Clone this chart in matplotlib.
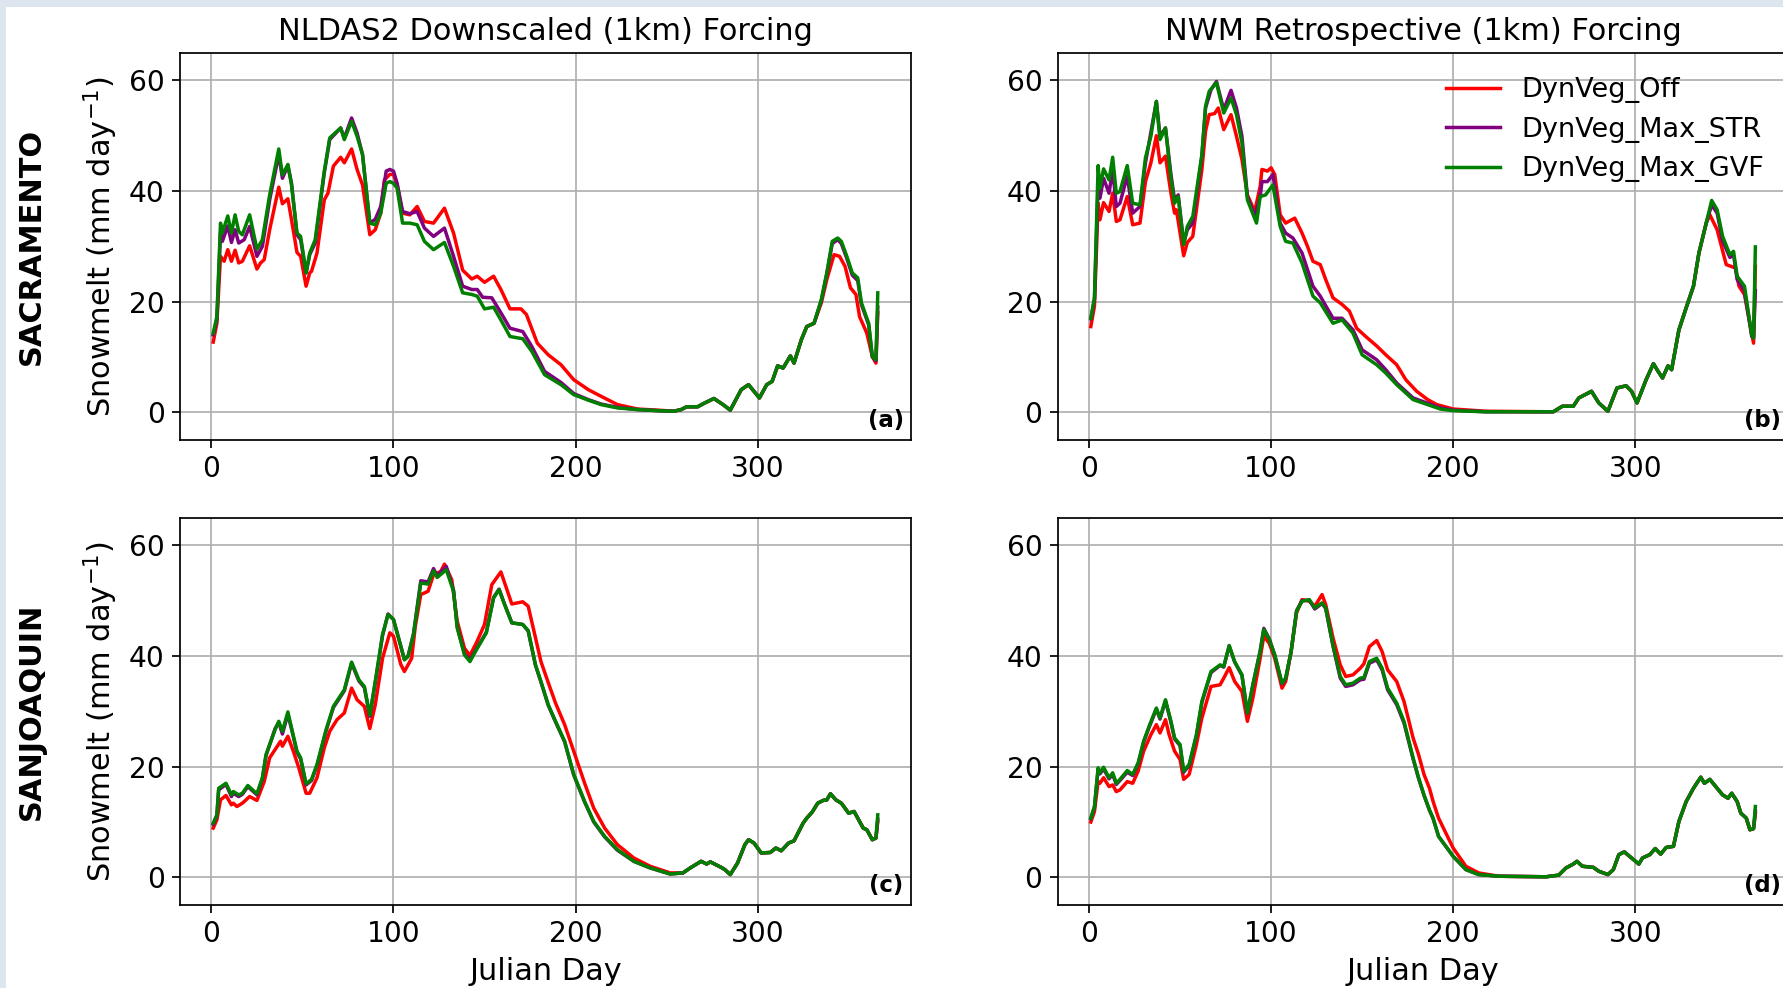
import numpy as np
import matplotlib
matplotlib.use("Agg")
import matplotlib.pyplot as plt
from matplotlib.patches import Rectangle

# ---- data (day, snowmelt mm/day) ----
# (a) SACRAMENTO, NLDAS2 downscaled
A_OFF = [(1, 12.7), (3, 16.1), (5, 28.2), (7, 27.3), (9, 29.4), (11, 27.3), (13, 29.3), (15, 27.0),
         (17, 27.3), (21, 30.1), (25, 25.9), (27, 27.0), (29, 27.6), (32, 33.0), (37, 40.7), (39, 37.7),
         (42, 38.6), (44, 34.8), (47, 28.9), (49, 28.2), (52, 22.8), (54, 25.2), (55, 25.5), (58, 28.8),
         (62, 38.4), (64, 39.6), (67, 44.5), (71, 46.1), (73, 45.1), (77, 47.6), (80, 43.9), (83, 41.1),
         (85, 36.6), (87, 32.1), (90, 33.0), (93, 36.0), (95, 42.0), (98, 43.0), (100, 43.0), (102, 41.1),
         (105, 36.0), (109, 35.7), (113, 37.2), (117, 34.5), (122, 34.2), (128, 36.9), (133, 32.4),
         (138, 25.7), (143, 24.1), (146, 24.6), (150, 23.5), (155, 24.6), (159, 22.2), (164, 18.7),
         (170, 18.7), (173, 17.7), (179, 12.5), (185, 10.4), (192, 8.6), (199, 5.9), (207, 4.1),
         (214, 2.9), (223, 1.4), (234, 0.6), (245, 0.4), (254, 0.2)]
A_STR = [(1, 14.0), (3, 16.7), (5, 32.4), (6, 30.9), (9, 33.7), (11, 30.7), (13, 33.0), (15, 30.6),
         (18, 31.2), (21, 33.6), (25, 28.2), (28, 30.0), (32, 38.4), (37, 46.6), (39, 42.3), (42, 44.6),
         (44, 41.4), (47, 32.1), (49, 31.2), (52, 25.2), (54, 28.5), (57, 30.6), (62, 43.3), (65, 49.3),
         (71, 51.4), (73, 49.6), (77, 53.2), (80, 50.5), (83, 46.6), (87, 34.2), (90, 34.9), (93, 37.2),
         (96, 43.6), (98, 43.9), (100, 43.6), (102, 41.4), (105, 36.3), (109, 35.9), (113, 36.3),
         (117, 33.3), (122, 31.8), (128, 33.3), (133, 28.2), (138, 22.8), (143, 22.2), (146, 22.2),
         (149, 20.8), (154, 20.7), (159, 18.0), (164, 15.2), (171, 14.6), (176, 11.9), (183, 7.4),
         (192, 5.4), (199, 3.4), (207, 2.3), (214, 1.5), (223, 0.9), (234, 0.5), (245, 0.3), (254, 0.2)]
A_GVF = [(1, 14.3), (3, 17.3), (5, 34.2), (6, 32.4), (9, 35.5), (11, 32.4), (13, 35.7), (15, 32.7),
         (17, 32.1), (21, 35.7), (25, 29.5), (28, 31.2), (32, 39.3), (37, 47.6), (39, 42.9), (42, 44.8),
         (44, 41.1), (47, 32.4), (49, 31.8), (52, 25.2), (54, 28.8), (57, 31.2), (62, 43.6), (65, 49.6),
         (71, 51.4), (73, 49.3), (77, 52.6), (80, 49.9), (83, 46.6), (87, 34.2), (90, 33.9), (93, 36.0),
         (96, 41.4), (98, 41.7), (100, 41.4), (102, 40.5), (105, 34.2), (109, 34.2), (113, 33.9),
         (117, 30.9), (122, 29.4), (128, 30.7), (133, 26.4), (138, 21.6), (143, 21.3), (146, 21.0),
         (150, 18.7), (155, 19.0), (159, 16.7), (164, 13.7), (171, 13.3), (176, 11.0), (183, 6.8),
         (192, 5.0), (199, 3.2), (207, 2.2), (214, 1.4), (223, 0.8), (234, 0.5), (245, 0.3), (254, 0.2)]
A_TAIL = [(258, 0.5), (261, 1.0), (267, 1.0), (271, 1.7), (276, 2.5), (281, 1.4), (285, 0.4), (291, 4.1),
          (295, 5.0), (301, 2.6), (305, 5.0), (308, 5.6), (311, 8.4), (314, 8.0), (318, 10.2), (320, 8.9),
          (324, 13.1), (327, 15.5), (331, 16.1)]
A_OFF_END = [(335, 19.8), (338, 24.0), (342, 28.5), (345, 28.2), (348, 26.4), (351, 22.5), (354, 21.3),
             (356, 17.3), (360, 14.3), (363, 10.1), (365, 8.9), (366, 18.0)]
A_STR_END = [(335, 20.2), (338, 25.0), (341, 30.5), (344, 31.2), (346, 30.5), (349, 27.8), (352, 24.8),
             (355, 23.8), (357, 19.5), (361, 15.8), (363, 10.0), (365, 9.3), (366, 19.0)]
A_GVF_END = [(335, 20.4), (338, 25.2), (341, 30.9), (344, 31.5), (346, 30.9), (349, 28.2), (352, 25.2),
             (355, 24.3), (357, 19.8), (361, 16.1), (363, 10.1), (365, 9.5), (366, 21.6)]

# (b) SACRAMENTO, NWM retrospective
B_OFF = [(1, 15.5), (3, 19.2), (5, 37.8), (6, 34.8), (8, 37.9), (11, 36.3), (13, 39.6), (15, 34.5),
         (17, 34.8), (21, 39.0), (24, 33.9), (28, 34.2), (31, 41.7), (34, 45.1), (37, 50.0), (39, 45.1),
         (42, 46.3), (45, 39.6), (47, 36.0), (48, 36.6), (52, 28.3), (54, 30.7), (57, 31.8), (62, 43.9),
         (64, 50.8), (66, 53.8), (69, 54.0), (71, 55.0), (74, 51.1), (78, 53.8), (81, 49.9), (84, 45.7),
         (87, 39.3), (91, 36.3), (94, 40.8), (95, 43.9), (98, 43.6), (100, 44.2), (102, 43.0), (105, 35.7),
         (108, 34.2), (113, 35.1), (117, 32.4), (120, 30.0), (123, 27.3), (127, 26.7), (130, 24.0),
         (134, 20.7), (139, 19.5), (143, 18.3), (147, 15.2), (152, 13.7), (158, 12.0), (163, 10.4),
         (169, 8.6), (174, 5.9), (180, 3.8), (186, 2.3), (191, 1.4), (200, 0.6), (218, 0.2), (255, 0.1)]
B_STR = [(1, 16.9), (3, 20.4), (5, 41.4), (6, 38.7), (8, 42.3), (11, 39.6), (13, 43.9), (15, 37.2),
         (17, 37.8), (21, 42.7), (24, 36.0), (28, 37.2), (31, 45.1), (37, 56.2), (39, 49.9), (42, 51.4),
         (45, 43.0), (47, 38.4), (49, 39.3), (52, 30.6), (54, 33.0), (57, 34.2), (62, 46.3), (64, 55.0),
         (67, 58.3), (70, 59.8), (74, 54.7), (78, 58.2), (81, 55.0), (84, 49.9), (87, 39.0), (91, 35.4),
         (94, 39.0), (95, 41.7), (98, 41.7), (101, 43.0), (105, 34.2), (108, 32.4), (112, 31.5),
         (117, 28.8), (123, 22.8), (127, 21.0), (134, 17.0), (139, 17.0), (145, 14.9), (150, 11.3),
         (158, 9.5), (163, 7.7), (169, 5.3), (178, 2.6), (193, 0.8), (200, 0.4), (218, 0.1), (255, 0.1)]
B_GVF = [(1, 17.0), (3, 20.7), (5, 44.6), (6, 40.5), (8, 44.0), (11, 42.0), (13, 46.1), (15, 39.6),
         (17, 39.9), (21, 44.6), (24, 37.8), (28, 37.5), (31, 46.0), (34, 49.9), (37, 56.2), (39, 49.3),
         (42, 51.4), (45, 42.3), (47, 37.8), (49, 39.0), (52, 30.3), (54, 33.6), (57, 35.4), (62, 46.6),
         (64, 55.3), (66, 58.0), (70, 59.6), (74, 54.1), (78, 56.8), (81, 53.8), (84, 48.7), (87, 38.4),
         (92, 34.2), (94, 39.0), (97, 39.3), (101, 41.1), (105, 33.6), (108, 30.9), (112, 30.6),
         (117, 27.0), (123, 21.0), (127, 19.8), (134, 16.1), (139, 16.7), (145, 14.3), (150, 10.4),
         (158, 8.6), (163, 7.1), (169, 5.0), (178, 2.3), (193, 0.6), (200, 0.3), (218, 0.1), (255, 0.1)]
B_TAIL = [(260, 1.1), (266, 1.1), (269, 2.6), (276, 3.8), (280, 1.7), (285, 0.2), (290, 4.4), (295, 4.8),
          (298, 3.8), (301, 1.7), (306, 5.9), (310, 8.8), (312, 7.7), (315, 6.2), (318, 8.4), (320, 7.7),
          (324, 14.9), (328, 18.9), (332, 22.8), (335, 28.8), (339, 34.2)]
B_OFF_END = [(341, 35.7), (345, 33.0), (350, 26.7), (355, 26.1), (357, 22.8), (360, 21.3), (365, 12.5),
             (366, 26.4)]
B_STR_END = [(342, 37.5), (345, 36.0), (348, 31.0), (352, 28.0), (354, 28.5), (356, 24.0), (360, 22.0),
             (364, 13.7), (365, 13.5), (366, 22.0)]
B_GVF_END = [(342, 38.3), (345, 36.6), (348, 31.8), (352, 28.5), (354, 29.1), (356, 24.6), (360, 22.8),
             (364, 14.0), (365, 13.4), (366, 29.9)]

# (c) SANJOAQUIN, NLDAS2 downscaled
C_OFF = [(1, 8.9), (3, 10.4), (5, 14.0), (8, 14.8), (11, 13.1), (12, 13.4), (14, 12.8), (17, 13.4),
         (21, 14.6), (25, 13.9), (29, 17.3), (32, 21.6), (38, 24.6), (39, 23.7), (42, 25.5), (45, 22.8),
         (48, 19.8), (52, 15.2), (54, 15.2), (58, 18.0), (62, 23.4), (65, 26.4), (69, 28.5), (73, 29.7),
         (77, 34.2), (80, 32.1), (84, 30.9), (87, 26.9), (90, 31.2), (94, 39.6), (98, 44.2), (100, 43.6),
         (104, 38.5), (106, 37.2), (110, 39.6), (112, 45.4), (115, 51.1), (119, 51.7), (122, 54.7),
         (126, 55.3), (128, 56.6), (132, 53.8), (135, 46.3), (139, 41.4), (142, 40.1), (146, 42.7),
         (150, 45.7), (154, 52.9), (159, 55.2), (162, 52.3), (165, 49.4), (171, 49.8), (174, 49.0),
         (178, 43.3), (181, 39.0), (185, 35.2), (189, 31.5), (194, 27.6), (199, 22.8), (205, 17.0),
         (210, 12.5), (216, 8.9), (223, 5.9), (232, 3.5), (241, 2.0), (252, 0.8)]
C_STR = [(1, 9.6), (3, 11.1), (4, 15.8), (8, 16.8), (11, 14.6), (12, 15.2), (15, 14.6), (17, 15.0),
         (20, 16.4), (25, 14.9), (28, 17.8), (30, 22.0), (35, 26.9), (37, 28.0), (39, 25.9), (42, 29.5),
         (44, 26.8), (47, 22.6), (49, 21.4), (52, 16.7), (55, 17.5), (58, 20.2), (63, 26.5), (67, 30.7),
         (73, 33.7), (77, 38.7), (81, 35.5), (84, 34.3), (87, 29.1), (90, 35.2), (94, 43.7), (97, 47.6),
         (100, 46.6), (103, 43.0), (106, 39.4), (108, 40.0), (111, 44.0), (115, 53.6), (119, 53.4),
         (122, 55.8), (124, 54.5), (129, 56.2), (133, 51.9), (135, 45.3), (139, 40.4), (142, 39.3),
         (146, 41.5), (151, 44.3), (155, 50.6), (158, 52.1), (161, 49.4), (165, 46.0), (171, 45.7),
         (174, 44.5), (178, 38.3), (181, 35.3), (185, 31.1), (189, 28.1), (194, 24.5), (199, 18.5),
         (205, 13.6), (210, 10.0), (216, 7.3), (223, 4.9), (232, 2.9), (241, 1.7), (252, 0.6)]
C_GVF = [(1, 9.8), (3, 11.3), (4, 16.1), (8, 17.0), (11, 14.9), (12, 15.5), (15, 14.9), (17, 15.2),
         (20, 16.6), (25, 15.1), (28, 18.0), (30, 22.2), (35, 26.7), (37, 28.2), (39, 26.4), (42, 29.9),
         (44, 27.0), (47, 22.8), (49, 21.6), (52, 16.9), (55, 17.7), (58, 20.4), (63, 26.7), (67, 30.9),
         (73, 33.9), (77, 38.9), (81, 35.7), (84, 34.5), (87, 29.3), (90, 35.4), (94, 43.9), (97, 47.5),
         (100, 46.6), (103, 43.0), (106, 39.3), (108, 39.9), (111, 43.9), (115, 53.2), (119, 53.0),
         (122, 55.4), (124, 54.2), (129, 55.6), (133, 51.7), (135, 45.1), (139, 40.2), (142, 39.0),
         (146, 41.4), (151, 44.2), (155, 50.5), (158, 52.0), (161, 49.3), (165, 46.0), (171, 45.7),
         (174, 44.6), (178, 38.4), (181, 35.4), (185, 31.2), (189, 28.2), (194, 24.6), (199, 18.6),
         (205, 13.7), (210, 10.1), (216, 7.4), (223, 5.0), (232, 2.9), (241, 1.7), (252, 0.6)]
C_TAIL = [(259, 0.8), (263, 1.7), (269, 2.9), (272, 2.4), (274, 2.8), (280, 1.8), (282, 1.4), (285, 0.5),
          (289, 2.6), (293, 5.9), (295, 6.8), (298, 6.2), (302, 4.4), (307, 4.5), (310, 5.3), (313, 4.8),
          (317, 6.2), (320, 6.6), (325, 9.8), (327, 10.7), (330, 11.8), (333, 13.4), (336, 13.9),
          (338, 14.0), (340, 15.1), (343, 14.0), (346, 13.4), (350, 11.6), (353, 11.9), (356, 10.1),
          (358, 8.9), (360, 8.6), (363, 6.8), (365, 7.1)]
C_OFF_END = [(366, 10.1)]
C_STR_END = [(366, 10.5)]
C_GVF_END = [(366, 11.3)]

# (d) SANJOAQUIN, NWM retrospective
D_OFF = [(1, 10.0), (3, 11.9), (5, 17.3), (6, 17.0), (8, 18.0), (11, 16.4), (13, 16.7), (15, 15.5),
         (17, 15.8), (21, 17.3), (24, 17.0), (27, 19.2), (30, 22.8), (34, 25.8), (37, 27.6), (39, 26.1),
         (42, 28.5), (44, 25.8), (47, 22.8), (50, 21.3), (52, 17.7), (55, 18.6), (59, 24.0), (62, 28.8),
         (67, 34.5), (72, 34.8), (74, 36.0), (77, 37.9), (80, 35.4), (84, 33.6), (87, 28.2), (90, 32.4),
         (94, 39.6), (96, 43.6), (99, 42.3), (102, 39.6), (106, 34.2), (108, 35.4), (111, 40.8),
         (114, 47.8), (117, 50.2), (121, 49.9), (124, 49.0), (128, 51.1), (130, 49.3), (134, 43.3),
         (138, 38.4), (141, 36.3), (145, 36.6), (149, 37.8), (151, 38.6), (154, 41.7), (158, 42.8),
         (161, 40.8), (164, 37.5), (169, 35.4), (173, 31.8), (178, 25.2), (181, 22.2), (184, 18.6),
         (187, 16.1), (189, 13.7), (192, 10.7), (200, 5.3), (207, 2.0), (214, 0.8), (225, 0.2), (251, 0.1)]
D_STR = [(1, 10.6), (3, 12.7), (5, 19.5), (6, 18.7), (8, 19.6), (11, 17.8), (13, 18.6), (15, 16.8),
         (17, 17.5), (21, 19.0), (24, 18.4), (27, 20.5), (30, 24.4), (33, 27.1), (37, 30.4), (39, 28.6),
         (42, 31.9), (45, 28.0), (47, 25.0), (50, 23.8), (52, 19.0), (55, 20.2), (59, 25.6), (62, 31.6),
         (67, 37.0), (72, 38.3), (74, 38.0), (77, 41.8), (80, 38.9), (84, 36.5), (87, 29.6), (90, 34.8),
         (94, 40.9), (96, 45.0), (99, 43.1), (102, 40.2), (106, 35.0), (108, 35.9), (111, 40.8),
         (114, 48.2), (117, 50.0), (121, 50.1), (124, 48.5), (128, 49.5), (130, 48.6), (134, 41.8),
         (138, 36.0), (141, 34.5), (145, 34.8), (149, 35.7), (151, 35.8), (154, 38.7), (158, 39.3),
         (161, 37.5), (164, 33.9), (169, 31.2), (173, 27.9), (178, 21.4), (181, 17.9), (184, 14.8),
         (187, 12.1), (189, 10.6), (192, 7.4), (200, 3.8), (207, 1.4), (214, 0.5), (225, 0.2), (251, 0.1)]
D_GVF = [(1, 10.7), (3, 12.8), (5, 19.8), (6, 18.9), (8, 19.9), (11, 18.0), (13, 18.9), (15, 17.0),
         (17, 17.7), (21, 19.3), (24, 18.6), (27, 20.7), (30, 24.6), (33, 27.3), (37, 30.6), (39, 28.8),
         (42, 32.1), (45, 28.2), (47, 25.2), (50, 24.0), (52, 19.2), (55, 20.4), (59, 25.8), (62, 31.8),
         (67, 37.2), (72, 38.4), (74, 38.1), (77, 41.9), (80, 39.0), (84, 36.6), (87, 29.7), (90, 34.8),
         (94, 40.8), (96, 44.8), (99, 43.0), (102, 40.2), (106, 35.1), (108, 36.0), (111, 40.8),
         (114, 48.1), (117, 49.9), (121, 50.2), (124, 48.7), (128, 49.6), (130, 48.7), (134, 42.0),
         (138, 36.3), (141, 34.8), (145, 35.1), (149, 36.0), (151, 36.1), (154, 39.0), (158, 39.6),
         (161, 37.8), (164, 34.2), (169, 31.5), (173, 28.2), (178, 21.6), (181, 18.0), (184, 14.9),
         (187, 12.2), (189, 10.7), (192, 7.4), (200, 3.8), (207, 1.4), (214, 0.5), (225, 0.2), (251, 0.1)]
D_TAIL = [(258, 0.4), (262, 1.7), (266, 2.4), (268, 2.9), (271, 2.0), (277, 1.8), (280, 1.1), (285, 0.5),
          (288, 1.4), (291, 4.1), (294, 4.6), (298, 3.5), (302, 2.4), (304, 3.5), (308, 4.1), (311, 5.2),
          (314, 4.2), (317, 5.4), (321, 5.6), (324, 10.1), (328, 13.7), (332, 16.1), (336, 18.1),
          (338, 17.0), (341, 17.7), (345, 16.1), (348, 14.9), (351, 14.3), (353, 15.2), (356, 13.7),
          (358, 11.6), (361, 10.7), (363, 8.6), (365, 8.8)]
D_OFF_END = [(366, 11.5)]
D_STR_END = [(366, 12.0)]
D_GVF_END = [(366, 12.8)]

LABELS = ["DynVeg_Off", "DynVeg_Max_STR", "DynVeg_Max_GVF"]
COLORS = ["red", "purple", "green"]
COL_TITLES = ["NLDAS2 Downscaled (1km) Forcing", "NWM Retrospective (1km) Forcing"]
ROW_NAMES = ["SACRAMENTO", "SANJOAQUIN"]

PANELS = [
    ("(a)", [A_OFF + A_TAIL + A_OFF_END, A_STR + A_TAIL + A_STR_END, A_GVF + A_TAIL + A_GVF_END]),
    ("(b)", [B_OFF + B_TAIL + B_OFF_END, B_STR + B_TAIL + B_STR_END, B_GVF + B_TAIL + B_GVF_END]),
    ("(c)", [C_OFF + C_TAIL + C_OFF_END, C_STR + C_TAIL + C_STR_END, C_GVF + C_TAIL + C_GVF_END]),
    ("(d)", [D_OFF + D_TAIL + D_OFF_END, D_STR + D_TAIL + D_STR_END, D_GVF + D_TAIL + D_GVF_END]),
]

# ---- layout (pixel geometry of the reference) ----
W, H, DPI = 1783, 988, 156
fig = plt.figure(figsize=(W / DPI, H / DPI), dpi=DPI, facecolor="#dde5ee")
fig.add_artist(Rectangle((6 / W, 0), 1, 1 - 7 / H, transform=fig.transFigure,
                         facecolor="white", edgecolor="none", zorder=-10))

lefts = [180, 1057.6]
tops = [52.7, 517.7]
aw, ah = 731, 387.3

axes = []
for r in range(2):
    for c in range(2):
        ax = fig.add_axes([lefts[c] / W, 1 - (tops[r] + ah) / H, aw / W, ah / H])
        axes.append(ax)

for i, (ax, (tag, series)) in enumerate(zip(axes, PANELS)):
    r, c = divmod(i, 2)
    for s, lab, col in zip(series, LABELS, COLORS):
        d = np.array(s)
        ax.plot(d[:, 0], d[:, 1], color=col, lw=1.6, label=lab)
    ax.set_ylim(-5, 65)
    ax.set_xticks([0, 100, 200, 300])
    ax.set_yticks([0, 20, 40, 60])
    ax.tick_params(labelsize=13)
    ax.grid(True)
    ax.text(0.99, 0.02, tag, transform=ax.transAxes, ha="right", va="bottom",
            fontsize=10.5, fontweight="bold")
    if r == 0:
        ax.set_title(COL_TITLES[c], fontsize=14)
    else:
        ax.set_xlabel("Julian Day", fontsize=14)
    if c == 0:
        ax.set_ylabel("Snowmelt (mm day$^{-1}$)", fontsize=14)

axes[1].legend(loc="upper right", frameon=False, fontsize=12.5)

for r, name in enumerate(ROW_NAMES):
    fig.text(31.6 / W, 1 - (tops[r] + ah / 2) / H, name, rotation=90, ha="center",
             va="center", fontsize=14, fontweight="bold")

fig.savefig("out.png", dpi=DPI, facecolor=fig.get_facecolor())
